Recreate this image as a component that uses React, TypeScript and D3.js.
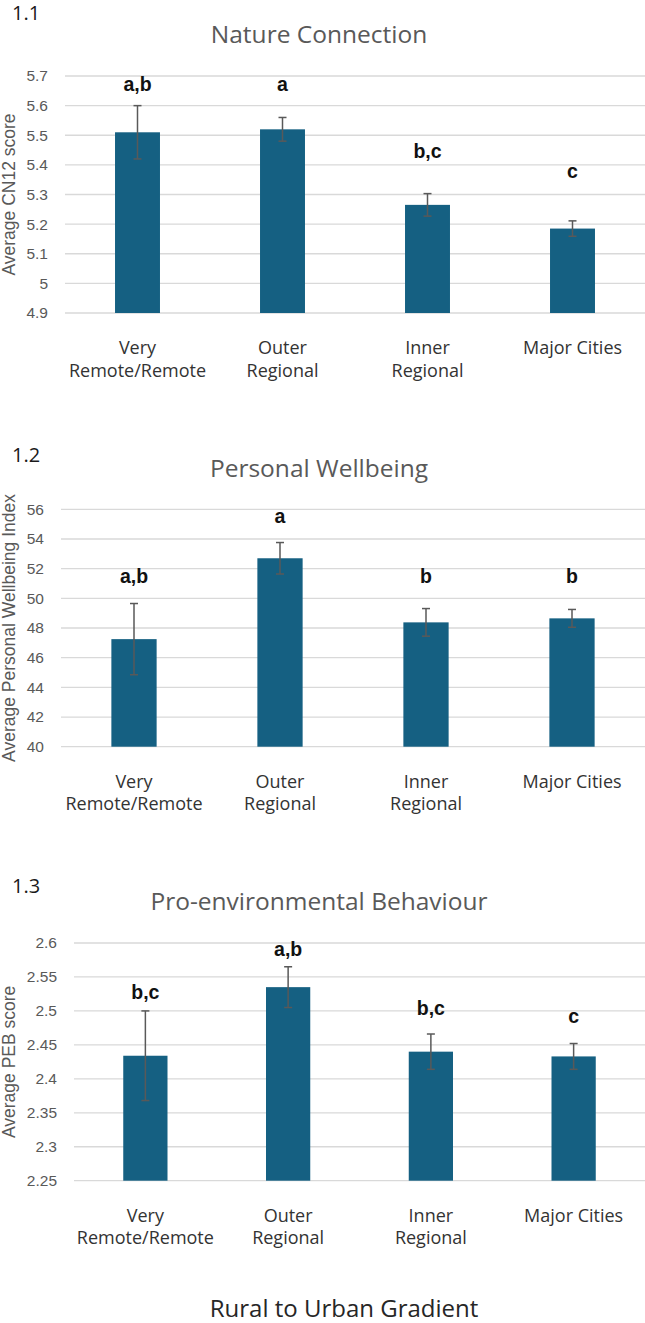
import React from "react";
import * as d3 from "d3";

// Remoteness categories along the rural-to-urban gradient (two-line labels)
const categories: string[][] = [
  ["Very", "Remote/Remote"],
  ["Outer", "Regional"],
  ["Inner", "Regional"],
  ["Major Cities"],
];

// 1.1 Nature Connection (CN12)
const cnMeans = [5.51, 5.52, 5.265, 5.185];
const cnErrors = [0.09, 0.04, 0.038, 0.026];
const cnLetters = ["a,b", "a", "b,c", "c"];
const cnLetterAt = [5.65, 5.65, 5.424, 5.356];
const cnTicks = [4.9, 5, 5.1, 5.2, 5.3, 5.4, 5.5, 5.6, 5.7];

// 1.2 Personal Wellbeing Index
const pwMeans = [47.25, 52.7, 48.38, 48.65];
const pwErrors = [2.4, 1.06, 0.93, 0.6];
const pwLetters = ["a,b", "a", "b", "b"];
const pwLetterAt = [51.06, 55.1, 51.06, 51.06];
const pwTicks = [40, 42, 44, 46, 48, 50, 52, 54, 56];

// 1.3 Pro-environmental Behaviour (PEB)
const pebMeans = [2.434, 2.535, 2.44, 2.433];
const pebErrors = [0.066, 0.03, 0.026, 0.019];
const pebLetters = ["b,c", "a,b", "b,c", "c"];
const pebLetterAt = [2.517, 2.581, 2.494, 2.482];
const pebTicks = [2.25, 2.3, 2.35, 2.4, 2.45, 2.5, 2.55, 2.6];

const panels = [
  {
    num: "1.1",
    title: "Nature Connection",
    yTitle: "Average CN12 score",
    means: cnMeans,
    errors: cnErrors,
    letters: cnLetters,
    letterAt: cnLetterAt,
    ticks: cnTicks,
  },
  {
    num: "1.2",
    title: "Personal Wellbeing",
    yTitle: "Average Personal Wellbeing Index",
    means: pwMeans,
    errors: pwErrors,
    letters: pwLetters,
    letterAt: pwLetterAt,
    ticks: pwTicks,
  },
  {
    num: "1.3",
    title: "Pro-environmental Behaviour",
    yTitle: "Average PEB score",
    means: pebMeans,
    errors: pebErrors,
    letters: pebLetters,
    letterAt: pebLetterAt,
    ticks: pebTicks,
  },
];

// Page geometry for each panel
const frames = [
  { numY: 20, titleY: 43, top: 76, bottom: 313, left: 65 },
  { numY: 462, titleY: 477, top: 509.3, bottom: 746.7, left: 61 },
  { numY: 893, titleY: 910, top: 943, bottom: 1180.7, left: 74 },
];

const W = 645;
const H = 1323;
const RIGHT = 645;
const TITLE_X = 319;
const BAR = "#156082";
const GRID = "#d9d9d9";
const AXIS_TEXT = "#595959";
const SANS = "'Open Sans', sans-serif";
const ARIAL = "'Liberation Sans', Arial, sans-serif";

function Panel({ p, f }: { p: (typeof panels)[number]; f: (typeof frames)[number] }) {
  const x = d3
    .scaleBand<number>()
    .domain(d3.range(categories.length))
    .range([f.left, RIGHT])
    .paddingInner(0.69)
    .paddingOuter(0.345);
  const y = d3
    .scaleLinear()
    .domain([p.ticks[0], p.ticks[p.ticks.length - 1]])
    .range([f.bottom, f.top]);
  const fmt = (v: number) => String(+v.toFixed(2));
  const cx = (i: number) => (x(i) as number) + x.bandwidth() / 2;
  const cap = 4;

  return (
    <g>
      <text x={12} y={f.numY} fontFamily={SANS} fontSize={20} fill="#1a1a1a">
        {p.num}
      </text>
      <text
        x={TITLE_X}
        y={f.titleY}
        textAnchor="middle"
        fontFamily={SANS}
        fontSize={24.5}
        fill={AXIS_TEXT}
      >
        {p.title}
      </text>

      {/* horizontal gridlines and tick labels */}
      {p.ticks.map((t) => (
        <g key={t}>
          <line x1={f.left} x2={RIGHT} y1={y(t)} y2={y(t)} stroke={GRID} strokeWidth={1.3} />
          <text
            x={f.left - 17}
            y={y(t)}
            dy="0.35em"
            textAnchor="end"
            fontFamily={ARIAL}
            fontSize={15.5}
            fill={AXIS_TEXT}
          >
            {fmt(t)}
          </text>
        </g>
      ))}

      <text
        transform={`translate(15,${(f.top + f.bottom) / 2}) rotate(-90)`}
        textAnchor="middle"
        fontFamily={ARIAL}
        fontSize={17.5}
        fill={AXIS_TEXT}
      >
        {p.yTitle}
      </text>

      {/* bars */}
      {p.means.map((m, i) => (
        <rect
          key={i}
          x={x(i)}
          width={x.bandwidth()}
          y={y(m)}
          height={y(p.ticks[0]) - y(m)}
          fill={BAR}
        />
      ))}

      {/* error bars */}
      {p.means.map((m, i) => {
        const hi = y(m + p.errors[i]);
        const lo = y(m - p.errors[i]);
        return (
          <g key={i} stroke="#595959" strokeWidth={1.5}>
            <line x1={cx(i)} x2={cx(i)} y1={hi} y2={lo} />
            <line x1={cx(i) - cap} x2={cx(i) + cap} y1={hi} y2={hi} />
            <line x1={cx(i) - cap} x2={cx(i) + cap} y1={lo} y2={lo} />
          </g>
        );
      })}

      {/* significance letters */}
      {p.letters.map((l, i) => (
        <text
          key={i}
          x={cx(i)}
          y={y(p.letterAt[i])}
          textAnchor="middle"
          fontFamily={ARIAL}
          fontWeight="bold"
          fontSize={19.5}
          fill="#111"
        >
          {l}
        </text>
      ))}

      {/* category labels */}
      {categories.map((lines, i) => (
        <text
          key={i}
          x={cx(i)}
          textAnchor="middle"
          fontFamily={SANS}
          fontSize={18}
          fill="#333"
        >
          {lines.map((ln, k) => (
            <tspan key={k} x={cx(i)} y={f.bottom + 41 + k * 22.5}>
              {ln}
            </tspan>
          ))}
        </text>
      ))}
    </g>
  );
}

export default function App() {
  return (
    <svg
      width={W}
      height={H}
      style={{ position: "absolute", left: 0, top: 0, background: "#fff" }}
    >
      <rect width={W} height={H} fill="#fff" />
      {panels.map((p, i) => (
        <Panel key={p.num} p={p} f={frames[i]} />
      ))}
      <text x={344} y={1317} textAnchor="middle" fontFamily={SANS} fontSize={24} fill="#262626">
        Rural to Urban Gradient
      </text>
    </svg>
  );
}
